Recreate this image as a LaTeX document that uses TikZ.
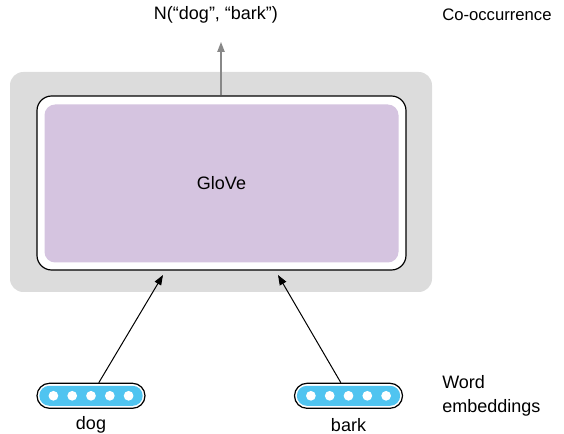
\documentclass[tikz,border=0pt]{standalone}
\usepackage{fontspec}
\setmainfont{Liberation Sans}
\usetikzlibrary{arrows.meta}
\definecolor{panelgray}{RGB}{220,220,220}
\definecolor{glovepurple}{RGB}{213,196,224}
\definecolor{vecblue}{RGB}{80,196,240}
\definecolor{outgray}{RGB}{136,136,136}
\tikzset{
  lbl/.style={font=\fontsize{13.5}{17.5}\selectfont, inner sep=0pt},
  smalllbl/.style={font=\fontsize{12.5}{16}\selectfont, inner sep=0pt},
  vecouter/.style={draw=black, line width=0.9pt, fill=white, rounded corners=9.375pt,
    minimum width=81pt, minimum height=18.75pt, inner sep=0pt},
  vecinner/.style={fill=vecblue, rounded corners=7.5pt,
    minimum width=77.5pt, minimum height=15pt, inner sep=0pt},
  vecdot/.style={circle, fill=white, minimum size=7.3pt, inner sep=0pt},
  inarrow/.style={line width=0.75pt, -{Triangle[length=7.5pt,width=5.5pt]}},
  outarrow/.style={draw=outgray, line width=1pt, -{Triangle[length=7.5pt,width=5.5pt]}, outgray},
}
\begin{document}
\begin{tikzpicture}[x=0.75pt, y=-0.75pt]
\useasboundingbox (0,0) rectangle (564,434);

% model block
\node[fill=panelgray, rounded corners=10pt, minimum width=316.5pt, minimum height=165pt,
  inner sep=0pt] (panel) at (221,182) {};
\node[draw=black, line width=0.9pt, fill=white, rounded corners=11pt,
  minimum width=276.75pt, minimum height=130.5pt, inner sep=0pt] (frame) at (221.5,183) {};
\node[fill=glovepurple, rounded corners=8pt, minimum width=265.5pt, minimum height=118.5pt,
  inner sep=0pt, lbl] (glove) at (221.5,183.5) {GloVe};

% output
\node[lbl] (count) at (216,15) {N(“dog”, “bark”)};
\node[smalllbl, anchor=west] (cooc) at (442,15) {Co-occurrence};
\coordinate (outtip) at (221,42);
\draw[outarrow] (frame.north -| outtip) -- (outtip);

% word vectors
\foreach \name/\cx/\word in {dog/91/dog, bark/348.5/bark}{
  \node[vecouter] (\name vec) at (\cx,395.8) {};
  \node[vecinner] (\name in) at (\cx,395.8) {};
  \foreach \k in {-2,...,2}{
    \node[vecdot] (\name dot\k) at ({\cx+18.8*\k},395.8) {};
  }
  \node[lbl] (\name lbl) at (\cx,425) {\word};
}
\node[lbl, anchor=west, align=left] (embcap) at (442,396) {Word\\embeddings};

% inputs into the model
\coordinate (dogtip) at (163,275);
\coordinate (barktip) at (278,275);
\draw[inarrow] (dogvec) -- (dogtip);
\draw[inarrow] (barkvec) -- (barktip);
\end{tikzpicture}
\end{document}
